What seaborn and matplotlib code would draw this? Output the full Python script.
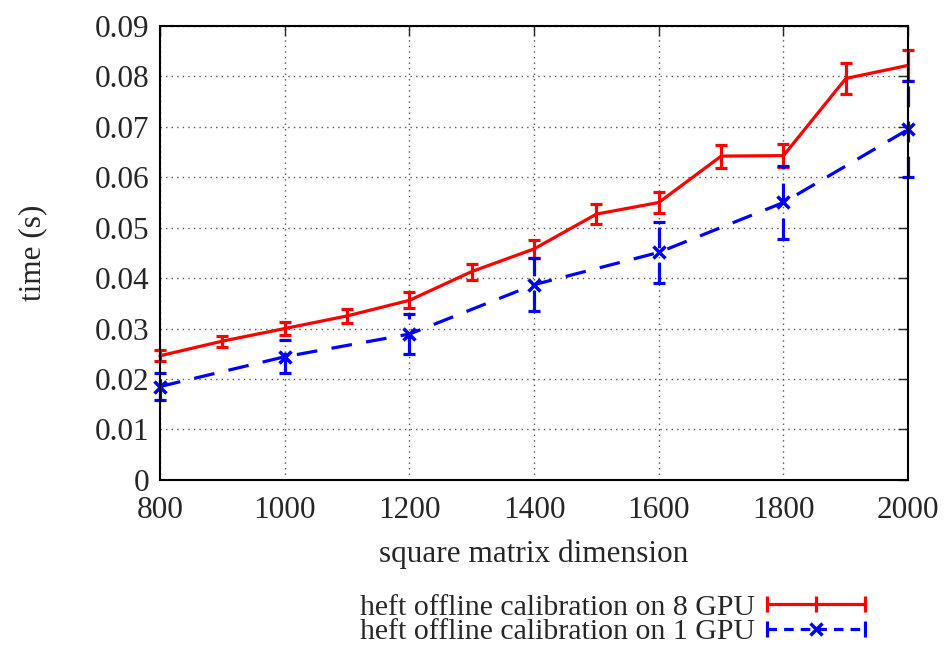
import matplotlib
matplotlib.use("Agg")
import matplotlib.pyplot as plt
from matplotlib.lines import Line2D
from matplotlib.legend_handler import HandlerLine2D
import seaborn as sns
import pandas as pd

sizes_8gpu = [800, 900, 1000, 1100, 1200, 1300, 1400, 1500, 1600, 1700, 1800, 1900, 2000]
time_8gpu = [0.0246, 0.0275, 0.0300, 0.0325, 0.0356, 0.0413, 0.0458, 0.0527, 0.0550, 0.0642, 0.0643, 0.0796, 0.0822]
err_8gpu = [0.0011, 0.0011, 0.0013, 0.0014, 0.0016, 0.0016, 0.0018, 0.0020, 0.0021, 0.0023, 0.0023, 0.0030, 0.0031]

sizes_1gpu = [800, 1000, 1200, 1400, 1600, 1800, 2000]
time_1gpu = [0.0185, 0.0244, 0.0289, 0.0387, 0.0451, 0.0550, 0.0695]
err_1gpu = [0.0026, 0.0033, 0.0040, 0.0052, 0.0060, 0.0073, 0.0095]

label_8gpu = "heft offline calibration on 8 GPU"
label_1gpu = "heft offline calibration on 1 GPU"

x_ticks = [800, 1000, 1200, 1400, 1600, 1800, 2000]
y_ticks = [0, 0.01, 0.02, 0.03, 0.04, 0.05, 0.06, 0.07, 0.08, 0.09]
y_tick_labels = ["0", "0.01", "0.02", "0.03", "0.04", "0.05", "0.06", "0.07", "0.08", "0.09"]

RED = "#ff0000"
BLUE = "#0000ff"
DASH = (6.5, 4.5)


class KeyHandler(HandlerLine2D):
    # legend line that only puts markers on some of its points
    def __init__(self, every, **kw):
        super().__init__(**kw)
        self.every = every

    def create_artists(self, *args, **kwargs):
        arts = super().create_artists(*args, **kwargs)
        for a in arts:
            a.set_markevery(self.every)
        return arts


sns.set_style("white")
plt.rcParams['font.family'] = ['Liberation Serif', 'DejaVu Serif']

fig = plt.figure(figsize=(9.47, 6.51), dpi=100)
ax = fig.add_axes([0.169, 0.263, 0.790, 0.697])

df8 = pd.DataFrame({"size": sizes_8gpu, "time": time_8gpu})
df1 = pd.DataFrame({"size": sizes_1gpu, "time": time_1gpu})

# lines through seaborn
sns.lineplot(data=df8, x="size", y="time", ax=ax, color=RED, linewidth=2.3, legend=False)
sns.lineplot(data=df1, x="size", y="time", ax=ax, color=BLUE, linewidth=2.3,
             marker="x", markersize=9, markeredgewidth=2.5, markeredgecolor=BLUE, legend=False)
ax.lines[1].set_dashes(DASH)
for ln in ax.lines:
    ln.set_clip_on(False)

# error bars on top
eb8 = ax.errorbar(sizes_8gpu, time_8gpu, yerr=err_8gpu, fmt="none", ecolor=RED,
                  elinewidth=2.3, capsize=4, capthick=2.3, clip_on=False)
eb1 = ax.errorbar(sizes_1gpu, time_1gpu, yerr=err_1gpu, fmt="none", ecolor=BLUE,
                  elinewidth=2.3, capsize=4, capthick=2.3, clip_on=False)
eb1[2][0].set_linestyle((0, DASH))
for cont in (eb8, eb1):
    for art in list(cont[1]) + list(cont[2]):
        art.set_clip_on(False)

ax.set_xlim(800, 2000)
ax.set_ylim(0, 0.09)
ax.set_xticks(x_ticks)
ax.set_yticks(y_ticks)
ax.set_yticklabels(y_tick_labels)

ax.grid(True, linestyle=(0, (1, 3)), color="#555555", linewidth=1.0)
ax.tick_params(direction="in", length=7, width=1, top=True, right=True, labelsize=22.5)
ax.tick_params(axis="x", pad=12)
ax.tick_params(axis="y", pad=8)
for side in ax.spines.values():
    side.set_linewidth(1.5)
    side.set_color("black")

ax.set_xlabel("square matrix dimension", fontsize=22.5, labelpad=10)
ax.set_ylabel("time (s)", fontsize=22.5, labelpad=34)

# gnuplot style legend keys: line with end caps and a point in the middle
key8 = Line2D([], [], color=RED, linewidth=2.3, marker="|", markersize=11, markeredgewidth=2.3)
key1_line = Line2D([], [], color=BLUE, linewidth=2.3, dashes=(3, 2.2), marker="|",
                   markersize=11, markeredgewidth=2.3)
key1_pt = Line2D([], [], color=BLUE, linestyle="none", marker="x", markersize=8,
                 markeredgewidth=2.5)

fig.legend([key8, (key1_line, key1_pt)], [label_8gpu, label_1gpu],
           loc="upper right", bbox_to_anchor=(0.936, 0.106),
           frameon=False, markerfirst=False, fontsize=21.5, numpoints=3,
           handlelength=3.9, handletextpad=0.1, labelspacing=-0.08,
           borderaxespad=0,
           handler_map={key1_line: KeyHandler([0, 2]), key1_pt: KeyHandler([1])})

fig.savefig("out.png", dpi=100)
